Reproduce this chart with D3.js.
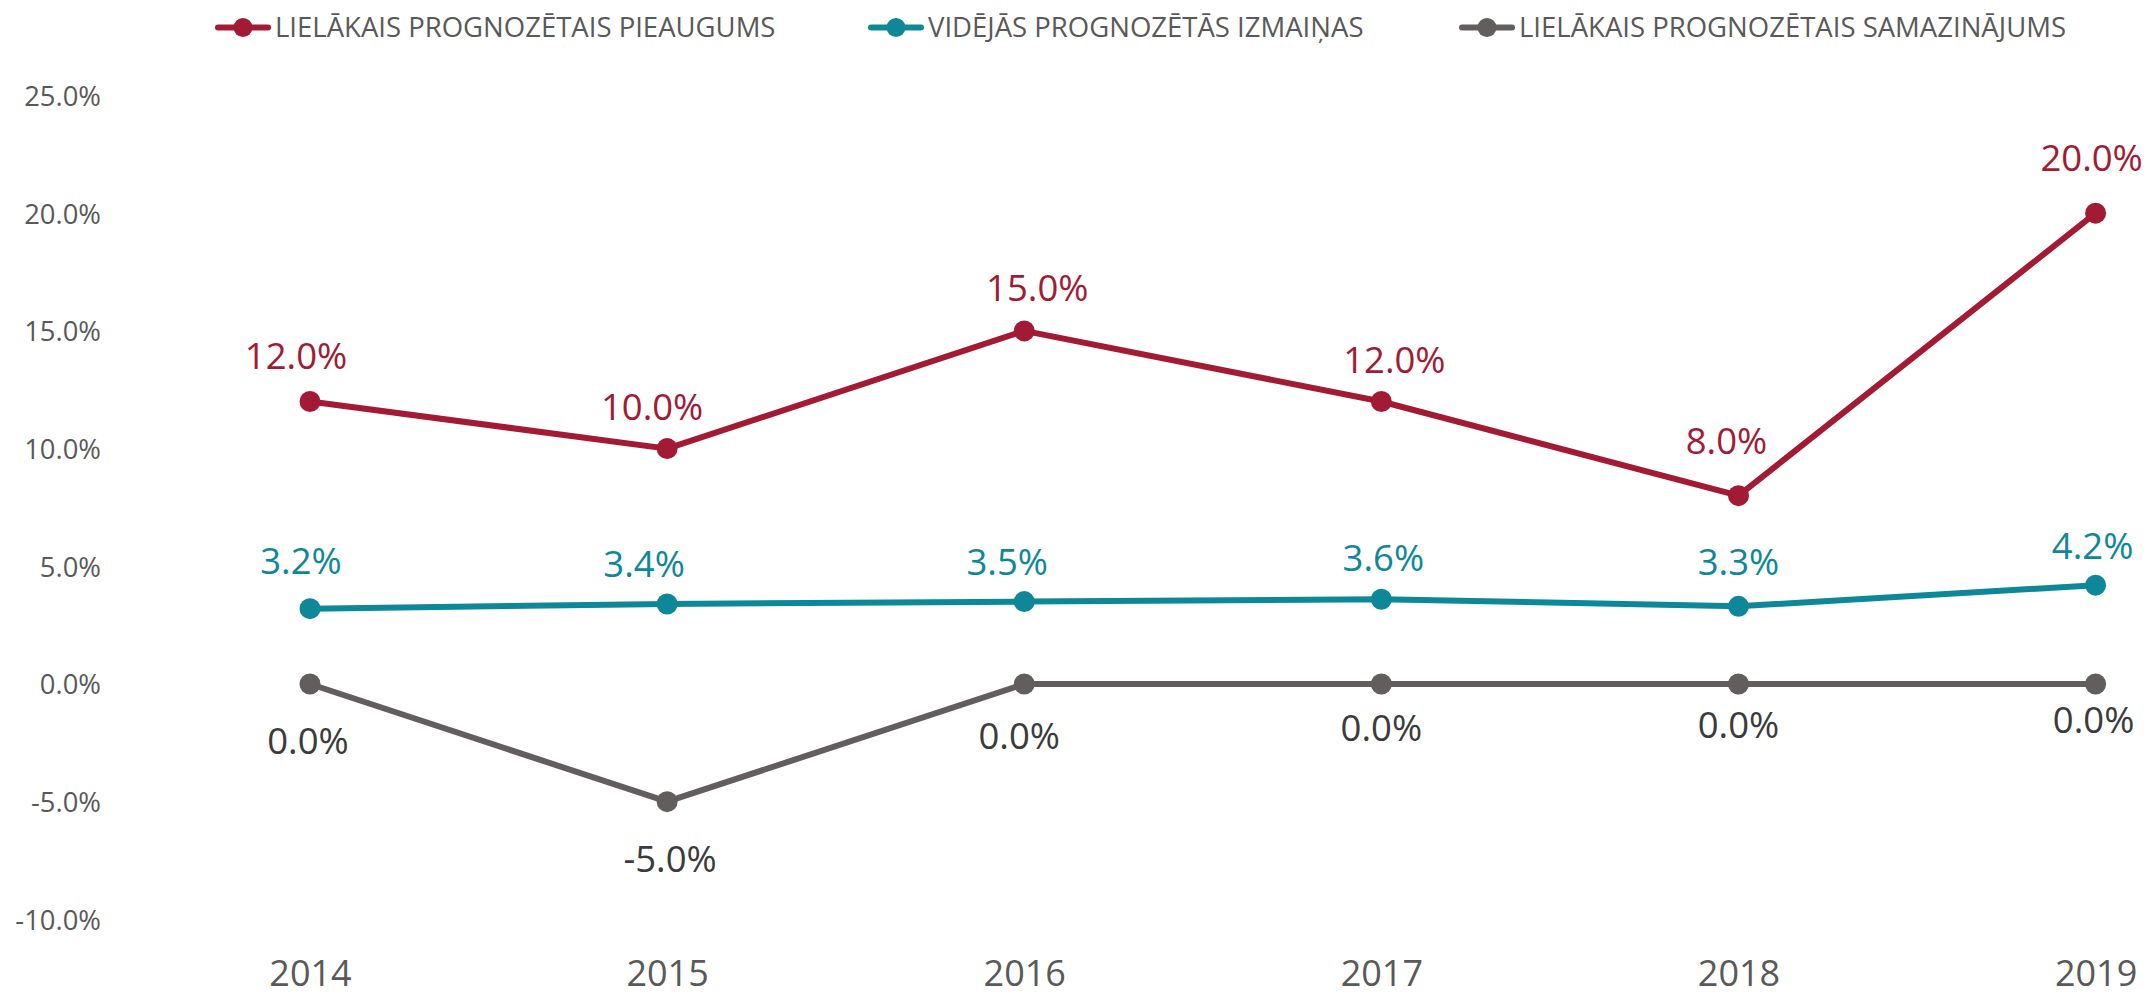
<!DOCTYPE html>
<html>
<head>
<meta charset="utf-8">
<script src="https://cdn.jsdelivr.net/npm/d3@7"></script>
<style>
  html, body { margin: 0; padding: 0; background: #ffffff; }
  svg { display: block; font-family: "Open Sans", sans-serif; }
</style>
</head>
<body>
<svg id="chart" width="2152" height="992"></svg>
<script>
// Years on the x axis
const years = ["2014", "2015", "2016", "2017", "2018", "2019"];

// Forecast values, percent
const largestIncrease = [12.0, 10.0, 15.0, 12.0, 8.0, 20.0];
const averageChange   = [3.2, 3.4, 3.5, 3.6, 3.3, 4.2];
const largestDecrease = [0.0, -5.0, 0.0, 0.0, 0.0, 0.0];

// Series names (legend)
const seriesNames = [
  "LIELĀKAIS PROGNOZĒTAIS PIEAUGUMS",
  "VIDĒJĀS PROGNOZĒTĀS IZMAIŅAS",
  "LIELĀKAIS PROGNOZĒTAIS SAMAZINĀJUMS"
];

// Y axis ticks, percent
const yTicks = [-10, -5, 0, 5, 10, 15, 20, 25];

// Value-label placement relative to each point: [dx, baseline dy]
const increaseLabelShift = [[-14, -33], [-15, -29], [13, -30], [13, -29], [-12, -42], [-4, -42]];
const averageLabelShift  = [[-9, -35], [-23, -27], [-17, -27], [2, -28], [0, -31], [-3, -26]];
const decreaseLabelShift = [[-2, 70], [3, 70], [-5, 65], [0, 57], [0, 54], [-2, 49]];

const colors = {
  increase: "#A31A34",
  average: "#0E8898",
  decrease: "#625E5E",
  decreaseLabel: "#3B3B3B",
  axisText: "#595959"
};

const svg = d3.select("#chart");

const x = d3.scalePoint().domain(years).range([310, 2095.6]);
const y = d3.scaleLinear().domain([-10, 25]).range([919.4, 95.5]);

const fmt = v => v.toFixed(1) + "%";

// Y axis: labels only
const yAxis = svg.append("g")
  .attr("transform", "translate(101,0)")
  .call(d3.axisLeft(y).tickValues(yTicks).tickSize(0).tickPadding(0).tickFormat(fmt));
yAxis.select(".domain").remove();
yAxis.selectAll("text")
  .attr("font-family", "Open Sans")
  .attr("font-size", 27.4)
  .attr("fill", colors.axisText)
  .attr("dy", "0.36em");

// X axis: year labels only
const xAxis = svg.append("g")
  .attr("transform", "translate(0,950)")
  .call(d3.axisBottom(x).tickSize(0).tickPadding(0));
xAxis.select(".domain").remove();
xAxis.selectAll("text")
  .attr("font-family", "Open Sans")
  .attr("font-size", 36)
  .attr("fill", colors.axisText)
  .attr("y", 36)
  .attr("dy", 0);

const series = [
  { values: largestIncrease, color: colors.increase, labelColor: colors.increase, shift: increaseLabelShift },
  { values: averageChange, color: colors.average, labelColor: colors.average, shift: averageLabelShift },
  { values: largestDecrease, color: colors.decrease, labelColor: colors.decreaseLabel, shift: decreaseLabelShift }
];

const line = d3.line()
  .x((d, i) => x(years[i]))
  .y(d => y(d));

series.forEach(s => {
  const g = svg.append("g");
  g.append("path")
    .datum(s.values)
    .attr("d", line)
    .attr("fill", "none")
    .attr("stroke", s.color)
    .attr("stroke-width", 6)
    .attr("stroke-linejoin", "round");
  g.selectAll("circle")
    .data(s.values)
    .join("circle")
    .attr("cx", (d, i) => x(years[i]))
    .attr("cy", d => y(d))
    .attr("r", 10.5)
    .attr("fill", s.color);
  g.selectAll("text")
    .data(s.values)
    .join("text")
    .attr("x", (d, i) => x(years[i]) + s.shift[i][0])
    .attr("y", (d, i) => y(d) + s.shift[i][1])
    .attr("text-anchor", "middle")
    .attr("font-family", "Open Sans")
    .attr("font-size", 36.5)
    .attr("fill", s.labelColor)
    .text(d => fmt(d));
});

// Legend
const legendItems = [
  { name: seriesNames[0], color: colors.increase, x0: 215 },
  { name: seriesNames[1], color: colors.average, x0: 868 },
  { name: seriesNames[2], color: colors.decrease, x0: 1459 }
];
const legend = svg.append("g");
legendItems.forEach(item => {
  const g = legend.append("g").attr("transform", `translate(${item.x0},0)`);
  g.append("line")
    .attr("x1", 3).attr("x2", 53)
    .attr("y1", 27.5).attr("y2", 27.5)
    .attr("stroke", item.color)
    .attr("stroke-width", 6)
    .attr("stroke-linecap", "round");
  g.append("circle")
    .attr("cx", 28).attr("cy", 27.5).attr("r", 9.5)
    .attr("fill", item.color);
  g.append("text")
    .attr("x", 60).attr("y", 36.5)
    .attr("font-family", "Open Sans")
    .attr("font-size", 27.5)
    .attr("fill", colors.axisText)
    .text(item.name);
});
</script>
</body>
</html>
